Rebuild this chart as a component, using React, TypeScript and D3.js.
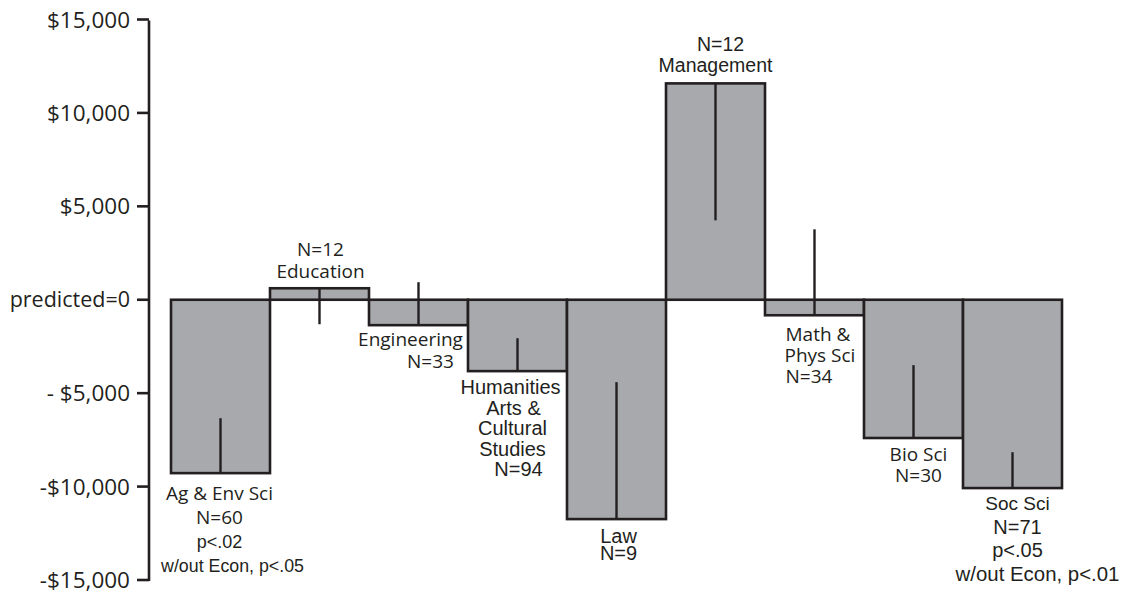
import React from "react";
import * as d3 from "d3";

const categories = [
  "Ag & Env Sci",
  "Education",
  "Engineering",
  "Humanities Arts & Cultural Studies",
  "Law",
  "Management",
  "Math & Phys Sci",
  "Bio Sci",
  "Soc Sci",
];
// salary difference from predicted (bar ends)
const values = [-9280, 615, -1360, -3820, -11740, 11580, -830, -7400, -10080];
// end of the vertical interval line (other end is the bar end)
const intervalEnds = [-6340, -1310, 940, -2060, -4410, 4250, 3770, -3500, -8160];
const sampleSizes = [60, 12, 33, 94, 9, 12, 34, 30, 71];

const labelLines: string[][] = [
  ["Ag & Env Sci", "N=60", "p<.02", "w/out Econ, p<.05"],
  ["N=12", "Education"],
  ["Engineering", "N=33"],
  ["Humanities", "Arts &", "Cultural", "Studies", "N=94"],
  ["Law", "N=9"],
  ["N=12", "Management"],
  ["Math &", "Phys Sci", "N=34"],
  ["Bio Sci", "N=30"],
  ["Soc Sci", "N=71", "p<.05", "w/out Econ, p<.01"],
];

const tickValues = [15000, 10000, 5000, 0, -5000, -10000, -15000];
const tickLabels = ["$15,000", "$10,000", "$5,000", "predicted=0", "- $5,000", "-$10,000", "-$15,000"];

// layout / style (not data)
const MYRIAD = "'Open Sans', sans-serif";
const ARIAL = "'Liberation Sans', Arial, sans-serif";
type LabelStyle = { gap: number; lh: number; dx: number[]; anchor: string; font: string[]; size: number[] };
const labelStyles: LabelStyle[] = [
  { gap: 27, lh: 24, dx: [-1, -1, -1, 12], anchor: "middle", font: [MYRIAD, MYRIAD, ARIAL, ARIAL], size: [19, 19, 18, 17.8] },
  { gap: 10, lh: 22, dx: [1, 1], anchor: "middle", font: [MYRIAD, MYRIAD], size: [19, 19] },
  { gap: 21, lh: 22, dx: [-8, 12], anchor: "middle", font: [MYRIAD, MYRIAD], size: [19, 19] },
  { gap: 23, lh: 20.5, dx: [-7, -4, -5, -5, 1], anchor: "middle", font: [ARIAL, ARIAL, ARIAL, ARIAL, ARIAL], size: [20, 20, 20, 20, 20] },
  { gap: 24, lh: 17, dx: [2, 2], anchor: "middle", font: [ARIAL, ARIAL], size: [20, 20] },
  { gap: 11, lh: 21, dx: [5, 0], anchor: "middle", font: [ARIAL, ARIAL], size: [19.5, 19.5] },
  { gap: 26, lh: 21, dx: [-29, -30, -29], anchor: "start", font: [MYRIAD, MYRIAD, MYRIAD], size: [19, 19, 19] },
  { gap: 23, lh: 21, dx: [5, 5], anchor: "middle", font: [MYRIAD, MYRIAD], size: [19, 19] },
  { gap: 22, lh: 23.5, dx: [5, 5, 5, 25], anchor: "middle", font: [ARIAL, ARIAL, ARIAL, ARIAL], size: [19, 20, 20, 20.4] },
];

const W = 1130;
const H = 596;
const INK = "#231f20";
const FILL = "#a7a9ac";

export default function App() {
  const y = d3.scaleLinear().domain([-15000, 15000]).range([580, 19.5]);
  const x = d3.scaleBand<string>().domain(categories).range([171, 1062]).padding(0);
  const axisX = 149;
  const bw = x.bandwidth();

  return (
    <div style={{ position: "absolute", left: 0, top: 0 }}>
      <svg width={W} height={H} style={{ display: "block", background: "#fff" }}>
        {/* bars */}
        {categories.map((c, i) => {
          const x0 = x(c)!;
          const v = values[i];
          const yTop = Math.min(y(v), y(0));
          const h = Math.abs(y(v) - y(0));
          return (
            <rect
              key={"bar" + i}
              x={x0}
              y={yTop}
              width={bw}
              height={h}
              fill={FILL}
              stroke={INK}
              strokeWidth={2.6}
            />
          );
        })}
        {/* interval lines */}
        {categories.map((c, i) => {
          const cx = x(c)! + bw / 2;
          return (
            <line
              key={"int" + i}
              x1={cx}
              x2={cx}
              y1={y(values[i])}
              y2={y(intervalEnds[i])}
              stroke={INK}
              strokeWidth={2.4}
            />
          );
        })}
        {/* axis */}
        <line x1={axisX} x2={axisX} y1={y(15000) + 1} y2={y(-15000) + 1} stroke={INK} strokeWidth={2.6} />
        {tickValues.map((t, i) => (
          <g key={"t" + i}>
            <line x1={axisX - 12} x2={axisX} y1={y(t)} y2={y(t)} stroke={INK} strokeWidth={2.6} />
            <text
              x={axisX - 19}
              y={y(t)}
              dy="0.36em"
              textAnchor="end"
              fontFamily={MYRIAD}
              fontSize={t === 0 ? 21.5 : 22.5}
              fill={INK}
            >
              {tickLabels[i]}
            </text>
          </g>
        ))}
        {/* labels */}
        {categories.map((c, i) => {
          const st = labelStyles[i];
          const lines = labelLines[i];
          const cx = x(c)! + bw / 2;
          const v = values[i];
          const n = lines.length;
          return (
            <g key={"lab" + i}>
              {lines.map((ln, j) => {
                let by: number;
                if (v >= 0) {
                  by = y(v) - st.gap - (n - 1 - j) * st.lh;
                } else {
                  by = y(v) + st.gap + j * st.lh;
                }
                return (
                  <text
                    key={j}
                    x={cx + st.dx[j]}
                    y={by}
                    textAnchor={st.anchor}
                    fontFamily={st.font[j]}
                    fontSize={st.size[j]}
                    fill={INK}
                  >
                    {ln}
                  </text>
                );
              })}
            </g>
          );
        })}
        <title>{sampleSizes.join(",")}</title>
      </svg>
    </div>
  );
}
